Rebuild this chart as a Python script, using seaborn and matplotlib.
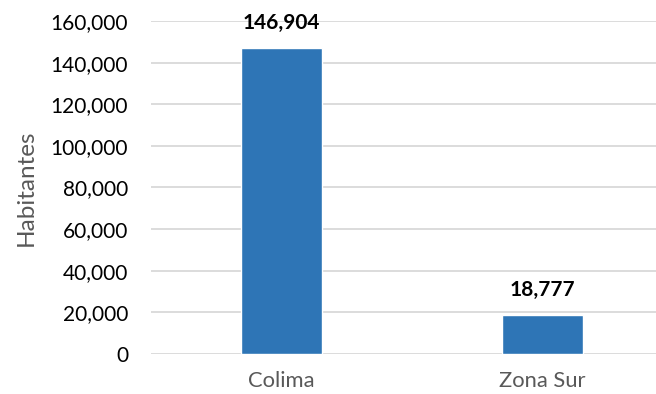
import matplotlib
matplotlib.use("Agg")
import matplotlib.pyplot as plt
import seaborn as sns
import pandas as pd

categories = ["Colima", "Zona Sur"]
habitantes = [146904, 18777]
y_ticks = [0, 20000, 40000, 60000, 80000, 100000, 120000, 140000, 160000]

sns.set_theme(style="white")
plt.rcParams["font.family"] = ["Lato", "DejaVu Sans"]

df = pd.DataFrame({"zona": categories, "habitantes": habitantes})

W, H = 656, 394
fig = plt.figure(figsize=(W / 100, H / 100), dpi=100)
ax = fig.add_axes([151 / W, 40 / H, (656 - 151) / W, (354 - 21) / H])

sns.barplot(data=df, x="zona", y="habitantes", color="#2E75B6", width=0.31,
            saturation=1, ax=ax, zorder=3)

ax.set_xlim(-0.5, 1.5 - 17 / 261)
ax.set_ylim(0, 160000)
ax.set_yticks(y_ticks)
ax.set_yticklabels([f"{v:,}" for v in y_ticks], fontsize=15, color="#000000")
ax.tick_params(axis="x", labelsize=15.8, labelcolor="#595959", length=0, pad=12)
ax.tick_params(axis="y", length=0, pad=16.5)
ax.grid(axis="y", color="#D9D9D9", linewidth=1.3, zorder=0)
for s in ax.spines.values():
    s.set_visible(False)

ax.set_xlabel("")
ax.set_ylabel("")
fig.text(26 / W, (394 - 188) / H, "Habitantes", rotation=90, ha="center",
         va="center", fontsize=17.5, color="#595959")

for i, v in enumerate(habitantes):
    ax.annotate(f"{v:,}", (i, v), xytext=(0, 11), textcoords="offset points",
                ha="center", va="bottom", fontsize=15, fontweight="bold",
                color="#000000")

fig.savefig("out.png", dpi=100)
